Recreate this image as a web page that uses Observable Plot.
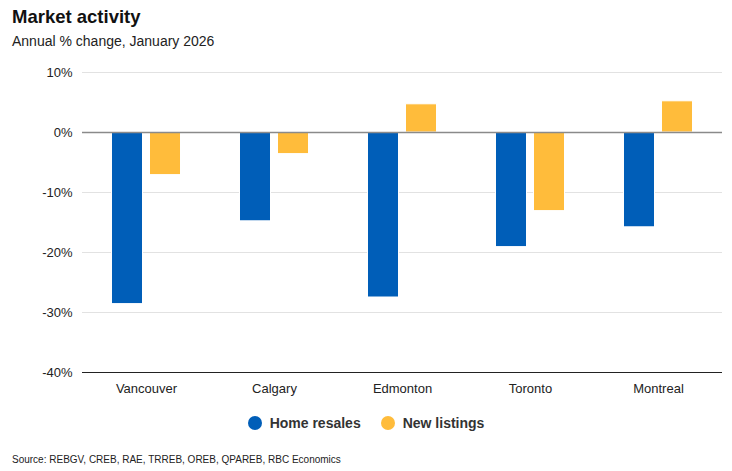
<!DOCTYPE html>
<html>
<head>
<meta charset="utf-8">
<script src="https://cdn.jsdelivr.net/npm/d3@7"></script>
<script src="https://cdn.jsdelivr.net/npm/@observablehq/plot@0.6"></script>
<style>
  body { margin: 0; background: #fff; font-family: "Liberation Sans", Arial, sans-serif; color: #222; width: 732px; }
  #title { position: absolute; left: 12px; top: 6px; font-size: 18.5px; font-weight: bold; color: #111; }
  #subtitle { position: absolute; left: 12px; top: 33px; font-size: 14px; color: #222; }
  #chart { position: absolute; left: 0; top: 56px; }
  #legend { position: absolute; left: 0; top: 415px; width: 732px; display: flex; justify-content: center; gap: 20px; font-size: 14px; font-weight: bold; color: #333; }
  .item { display: flex; align-items: center; gap: 8px; }
  .dot { width: 14px; height: 14px; border-radius: 50%; display: inline-block; }
  #source { position: absolute; left: 12px; top: 454px; font-size: 10px; color: #222; }
</style>
</head>
<body>
<div id="title">Market activity</div>
<div id="subtitle">Annual % change, January 2026</div>
<div id="chart"></div>
<div id="legend"></div>
<div id="source">Source: REBGV, CREB, RAE, TRREB, OREB, QPAREB, RBC Economics</div>
<script>
const cities = ["Vancouver", "Calgary", "Edmonton", "Toronto", "Montreal"];
const seriesNames = ["Home resales", "New listings"];
const homeResales = [-28.6, -14.8, -27.5, -19.1, -15.8];
const newListings = [-7.1, -3.6, 4.7, -13.1, 5.2];
const colors = ["#005EB8", "#FFBC3B"];
const yTicks = [10, 0, -10, -20, -30, -40];

const data = [];
cities.forEach((c, i) => {
  data.push({city: c, series: seriesNames[0], value: homeResales[i]});
  data.push({city: c, series: seriesNames[1], value: newListings[i]});
});

const chart = Plot.plot({
  width: 732,
  height: 344,
  marginLeft: 82,
  marginRight: 10,
  marginTop: 16,
  marginBottom: 28,
  style: {fontFamily: "'Liberation Sans', Arial, sans-serif", fontSize: "13px", color: "#222", background: "white"},
  fx: {domain: cities, padding: 0, round: false, axis: "bottom", label: null, tickSize: 0, tickPadding: 11},
  x: {domain: seriesNames, axis: null, round: false, paddingInner: 0.184, paddingOuter: 0.776},
  y: {domain: [-40, 10], ticks: yTicks, tickFormat: d => d + "%", tickSize: 0, tickPadding: 10, label: null},
  color: {domain: seriesNames, range: colors},
  marks: [
    Plot.ruleY([10, -10, -20, -30], {stroke: "#e2e2e2", strokeWidth: 1}),
    Plot.barY(data, {fx: "city", x: "series", y: "value", fill: "series", stroke: "white", strokeWidth: 1}),
    Plot.ruleY([0], {stroke: "#8a8a8a", strokeWidth: 1.5}),
    Plot.ruleY([-40], {stroke: "#222", strokeWidth: 1})
  ]
});
document.getElementById("chart").appendChild(chart);

const legend = document.getElementById("legend");
seriesNames.forEach((s, i) => {
  const item = document.createElement("div");
  item.className = "item";
  const dot = document.createElement("span");
  dot.className = "dot";
  dot.style.background = colors[i];
  const label = document.createElement("span");
  label.textContent = s;
  item.appendChild(dot);
  item.appendChild(label);
  legend.appendChild(item);
});
</script>
</body>
</html>
